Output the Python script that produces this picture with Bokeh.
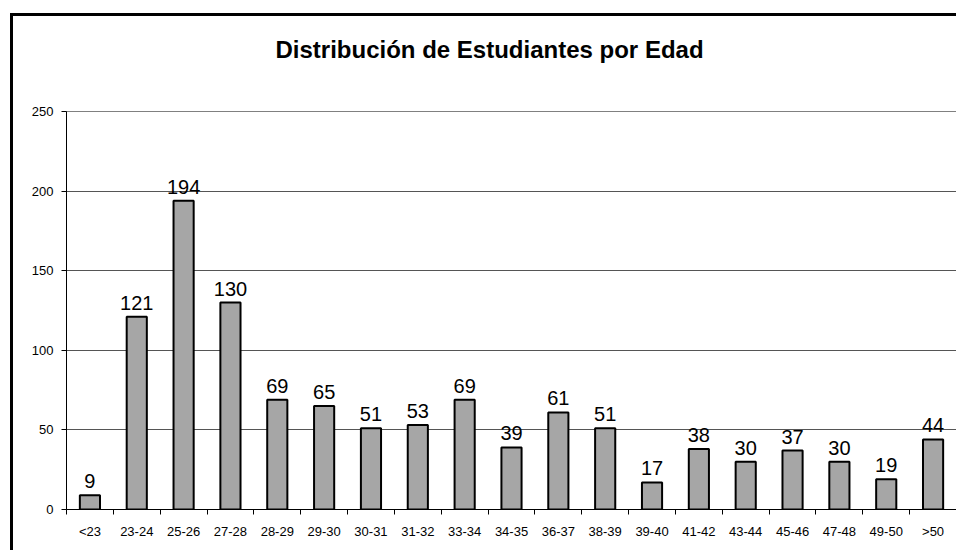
from bokeh.plotting import figure
from bokeh.models import Range1d, FixedTicker, ColumnDataSource, Title
from bokeh.core.properties import value
from bokeh.embed import file_html
from bokeh.resources import INLINE

# Data
categories = ["<23", "23-24", "25-26", "27-28", "28-29", "29-30", "30-31", "31-32", "33-34",
              "34-35", "36-37", "38-39", "39-40", "41-42", "43-44", "45-46", "47-48", "49-50", ">50"]
counts = [9, 121, 194, 130, 69, 65, 51, 53, 69, 39, 61, 51, 17, 38, 30, 37, 30, 19, 44]
y_ticks = [0, 50, 100, 150, 200, 250]
title_text = "Distribución de Estudiantes por Edad"

n = len(categories)
centers = [i + 0.5 for i in range(n)]
boundaries = list(range(n + 1))

src = ColumnDataSource(dict(x=centers, top=counts, lbl=[str(c) for c in counts]))

FONT = "Liberation Sans"

p = figure(width=946, height=537, output_backend="svg", toolbar_location=None,
           x_range=Range1d(0, n), y_range=Range1d(0, 250),
           min_border_left=53, min_border_right=3, min_border_top=95, min_border_bottom=44)
p.styles = {"margin-left": "10px", "margin-top": "13px",
            "border-left": "3px solid black", "border-top": "3px solid black"}

p.title.text = ""

# spacer panel (closest to frame), then the real title above it
spacer = Title(text=" ", text_font_size="1px", standoff=46)
p.add_layout(spacer, "above")
main_title = Title(text=title_text, align="left", offset=209, vertical_align="bottom",
                   standoff=0, text_font=FONT, text_font_size="24px",
                   text_font_style="bold", text_color="black")
p.add_layout(main_title, "above")

p.background_fill_color = "white"
p.border_fill_color = "white"
p.outline_line_color = "#808080"
p.outline_line_width = 1

p.vbar(x="x", top="top", width=0.43, source=src, fill_color="#A6A6A6",
       line_color="black", line_width=2)

p.text(x="x", y="top", text="lbl", source=src, text_align="center",
       text_baseline="alphabetic", y_offset=-14,
       text_font=value(FONT), text_font_size="20px", text_color="black")

# grid
p.xgrid.grid_line_color = None
p.ygrid.ticker = FixedTicker(ticks=y_ticks)
p.ygrid.grid_line_color = "#555555"
p.ygrid.grid_line_width = 1

# y axis
p.yaxis.ticker = FixedTicker(ticks=y_ticks)
p.yaxis.major_tick_out = 5
p.yaxis.major_tick_in = 0
p.yaxis.minor_tick_line_color = None
p.yaxis.major_label_standoff = 8
p.yaxis.major_label_text_font = FONT
p.yaxis.major_label_text_font_size = "13px"
p.yaxis.major_label_text_color = "black"
p.yaxis.axis_line_color = "black"
p.yaxis.major_tick_line_color = "black"

# x axis: labels at centers, ticks at boundaries
p.xaxis.ticker = FixedTicker(ticks=centers, minor_ticks=boundaries)
p.xaxis.major_label_overrides = {c: lab for c, lab in zip(centers, categories)}
p.xaxis.major_tick_line_color = None
p.xaxis.major_tick_out = 0
p.xaxis.major_tick_in = 0
p.xaxis.minor_tick_line_color = "black"
p.xaxis.minor_tick_out = 5
p.xaxis.minor_tick_in = 0
p.xaxis.major_label_standoff = 9
p.xaxis.major_label_text_font = FONT
p.xaxis.major_label_text_font_size = "13px"
p.xaxis.major_label_text_color = "black"
p.xaxis.axis_line_color = "black"

open("out.html", "w").write(file_html(p, INLINE))
